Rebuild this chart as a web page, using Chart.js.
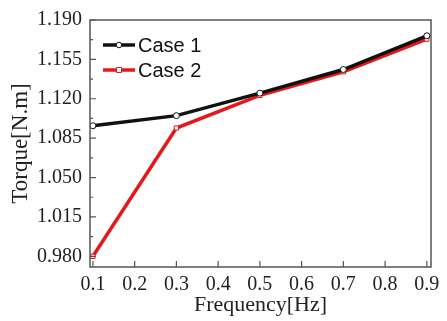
<!DOCTYPE html>
<html>
<head>
<meta charset="utf-8">
<script src="https://cdn.jsdelivr.net/npm/chart.js@4"></script>
<style>
  html, body { margin: 0; padding: 0; background: #fff; }
  #wrap { width: 447px; height: 321px; }
</style>
</head>
<body>
<div id="wrap"><canvas id="torqueChart"></canvas></div>
<script>
// values
const frequency = [0.1, 0.3, 0.5, 0.7, 0.9];
const case1 = [1.096, 1.105, 1.125, 1.146, 1.176];
const case2 = [0.980, 1.094, 1.123, 1.144, 1.173];
const xTicks = [0.1, 0.2, 0.3, 0.4, 0.5, 0.6, 0.7, 0.8, 0.9];
const yTicks = [0.980, 1.015, 1.050, 1.085, 1.120, 1.155, 1.190];

const serif = '"Liberation Serif", "DejaVu Serif", serif';
const sans = '"Liberation Sans", Arial, sans-serif';
const axisGray = '#555';

// inward tick marks, box frame and the legend inside the plot
const framePlugin = {
  id: 'frame',
  afterDraw(chart) {
    const { ctx, chartArea: a, scales } = chart;
    ctx.save();
    ctx.strokeStyle = axisGray;
    ctx.lineWidth = 1.5;
    ctx.strokeRect(a.left, a.top, a.right - a.left, a.bottom - a.top);
    ctx.lineWidth = 1.2;
    ctx.beginPath();
    xTicks.forEach(v => {
      const x = scales.x.getPixelForValue(v);
      ctx.moveTo(x, a.bottom); ctx.lineTo(x, a.bottom - 6);
    });
    yTicks.forEach((v, i) => {
      const y = scales.y.getPixelForValue(v);
      ctx.moveTo(a.left, y); ctx.lineTo(a.left + 6, y);
      if (i < yTicks.length - 1) {
        const ym = scales.y.getPixelForValue((v + yTicks[i + 1]) / 2);
        ctx.moveTo(a.left, ym); ctx.lineTo(a.left + 3, ym);
      }
    });
    ctx.stroke();

    // legend
    chart.data.datasets.forEach((ds, i) => {
      const y = 45 + i * 25;
      const x0 = 103, x1 = 135, xm = (x0 + x1) / 2;
      ctx.strokeStyle = ds.borderColor;
      ctx.lineWidth = 3.5;
      ctx.beginPath(); ctx.moveTo(x0, y); ctx.lineTo(x1, y); ctx.stroke();
      ctx.fillStyle = '#fff';
      ctx.lineWidth = 1;
      ctx.beginPath();
      if (ds.pointStyle === 'rect') {
        ctx.rect(xm - 2.5, y - 2.5, 5, 5);
      } else {
        ctx.arc(xm, y, 2.8, 0, Math.PI * 2);
      }
      ctx.fill(); ctx.stroke();
      ctx.fillStyle = '#111';
      ctx.font = '20px ' + sans;
      ctx.textBaseline = 'middle';
      ctx.fillText(ds.label, 138, y + 1);
    });
    ctx.restore();
  }
};

const ctx = document.getElementById('torqueChart').getContext('2d');
const torqueChart = new Chart(ctx, {
  type: 'line',
  data: {
    datasets: [{
      label: 'Case 1',
      data: frequency.map((f, i) => ({ x: f, y: case1[i] })),
      borderColor: '#111111',
      borderWidth: 3.5,
      pointStyle: 'circle',
      pointRadius: 3,
      pointBorderWidth: 1,
      pointBackgroundColor: '#fff',
      pointBorderColor: '#111111',
      tension: 0
    }, {
      label: 'Case 2',
      data: frequency.map((f, i) => ({ x: f, y: case2[i] })),
      borderColor: '#e3191c',
      borderWidth: 3.5,
      pointStyle: 'rect',
      pointRadius: 3,
      pointBorderWidth: 1,
      pointBackgroundColor: '#fff',
      pointBorderColor: '#e3191c',
      tension: 0
    }]
  },
  options: {
    responsive: true,
    maintainAspectRatio: false,
    animation: false,
    layout: { padding: { top: 15, right: 16, left: 0, bottom: 0 } },
    plugins: {
      legend: { display: false },
      tooltip: { enabled: false }
    },
    scales: {
      x: {
        type: 'linear',
        min: 0.093,
        max: 0.91,
        afterBuildTicks: axis => { axis.ticks = xTicks.map(v => ({ value: v })); },
        afterFit: axis => { axis.height = 54; },
        grid: { display: false, drawTicks: false },
        border: { display: false },
        ticks: {
          padding: 6,
          color: '#222',
          font: { family: serif, size: 20 },
          maxRotation: 0,
          callback: v => v.toFixed(1)
        },
        title: {
          display: true,
          text: 'Frequency[Hz]',
          color: '#222',
          font: { family: serif, size: 22 },
          padding: { top: 0, bottom: 3 }
        }
      },
      y: {
        min: 0.9705,
        max: 1.19,
        afterBuildTicks: axis => { axis.ticks = yTicks.map(v => ({ value: v })); },
        afterFit: axis => { axis.width = 90; },
        grid: { display: false, drawTicks: false },
        border: { display: false },
        ticks: {
          padding: 8,
          color: '#222',
          font: { family: serif, size: 20 },
          callback: v => v.toFixed(3)
        },
        title: {
          display: true,
          text: 'Torque[N.m]',
          color: '#222',
          font: { family: serif, size: 23 },
          padding: { top: 7, bottom: 0 }
        }
      }
    }
  },
  plugins: [framePlugin]
});
</script>
</body>
</html>
